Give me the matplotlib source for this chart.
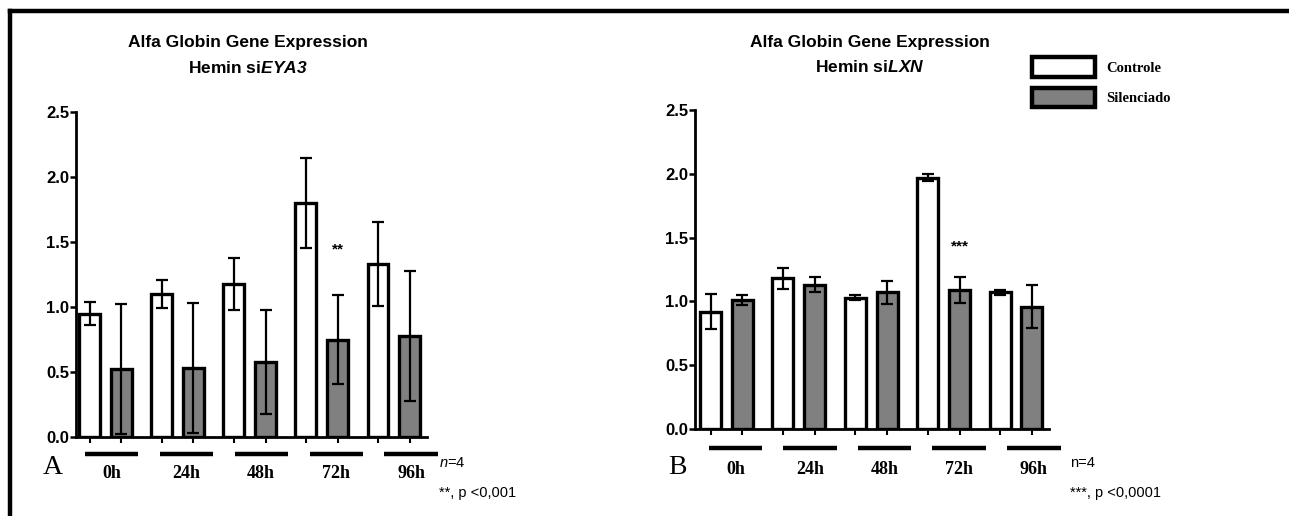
import numpy as np
import matplotlib
matplotlib.use("Agg")
import matplotlib.pyplot as plt
from matplotlib.lines import Line2D

plt.rcParams["mathtext.fontset"] = "custom"
plt.rcParams["mathtext.rm"] = "Liberation Sans"
plt.rcParams["mathtext.it"] = "Liberation Sans:italic"
plt.rcParams["mathtext.bf"] = "Liberation Sans:bold"
plt.rcParams["mathtext.bfit"] = "Liberation Sans:italic:bold"

# data
groups = ["0h", "24h", "48h", "72h", "96h"]

a_ctrl = [0.95, 1.10, 1.18, 1.80, 1.33]
a_ctrl_err = [0.09, 0.11, 0.20, 0.35, 0.32]
a_sil = [0.52, 0.53, 0.58, 0.75, 0.78]
a_sil_err = [0.50, 0.50, 0.40, 0.34, 0.50]

b_ctrl = [0.92, 1.18, 1.03, 1.97, 1.07]
b_ctrl_err = [0.14, 0.08, 0.02, 0.03, 0.02]
b_sil = [1.01, 1.13, 1.07, 1.09, 0.96]
b_sil_err = [0.04, 0.06, 0.09, 0.10, 0.17]

yticks = [0.0, 0.5, 1.0, 1.5, 2.0, 2.5]

W, H = 1289, 516
fig = plt.figure(figsize=(W / 100, H / 100), dpi=100)

SANS = "Liberation Sans"
SERIF = "Liberation Serif"
GRAY = "#808080"


def px_axes(l, r, t, b):
    return fig.add_axes([l / W, 1 - b / H, (r - l) / W, (b - t) / H])


def panel(ax, ctrl, ctrl_err, sil, sil_err, xlim, stars, star_y,
          line_scale, line_shift, line_dy, label_dy, ax_h):
    x = np.arange(len(groups))
    off, bw = 0.22, 0.29
    ax.bar(x - off, ctrl, bw, color="white", edgecolor="black", linewidth=2.4, zorder=2,
           label="Controle")
    ax.bar(x + off, sil, bw, color=GRAY, edgecolor="black", linewidth=2.4, zorder=2,
           label="Silenciado")
    ax.errorbar(x - off, ctrl, yerr=ctrl_err, fmt="none", ecolor="black",
                elinewidth=1.6, capsize=4.5, capthick=1.6, zorder=3)
    ax.errorbar(x + off, sil, yerr=sil_err, fmt="none", ecolor="black",
                elinewidth=1.6, capsize=4.5, capthick=1.6, zorder=3)

    ax.set_xlim(*xlim)
    ax.set_ylim(0, 2.5)
    ax.set_yticks(yticks)
    ax.set_yticklabels([f"{v:.1f}" for v in yticks], fontfamily=SANS,
                       fontweight="bold", fontsize=12)
    ax.set_xticks(np.concatenate([x - off, x + off]))
    ax.set_xticklabels([])
    ax.tick_params(axis="y", length=4, width=1.8, pad=1)
    ax.tick_params(axis="x", length=4, width=1.5)
    for s in ["top", "right"]:
        ax.spines[s].set_visible(False)
    for s in ["left", "bottom"]:
        ax.spines[s].set_linewidth(2.0)

    ax.text(3 + off, star_y, stars, ha="center", va="center", fontsize=11,
            fontfamily=SANS, fontweight="bold")

    # group bars and time labels below the axis
    tr = ax.get_xaxis_transform()
    for i, g in enumerate(groups):
        c = i * line_scale + line_shift
        ax.plot([c - 0.37, c + 0.37], [-line_dy / ax_h] * 2, color="black", lw=3.2,
                transform=tr, clip_on=False, solid_capstyle="butt")
        ax.text(c, -label_dy / ax_h, g, transform=tr, ha="center", va="center",
                fontfamily=SERIF, fontweight="bold", fontsize=13)


def titles(xc, y1, y2, gene):
    fig.text(xc / W, 1 - y1 / H, "Alfa Globin Gene Expression", ha="center", va="center",
             fontfamily=SANS, fontweight="bold", fontsize=12.5)
    fig.text(xc / W, 1 - y2 / H, r"Hemin si$\mathbfit{" + gene + "}$", ha="center",
             va="center", fontfamily=SANS, fontweight="bold", fontsize=12.5)


# panel A
axA = px_axes(76, 427, 112, 437)
panel(axA, a_ctrl, a_ctrl_err, a_sil, a_sil_err, (-0.41, 4.46), "**", 1.44,
      1.04, 0.08, 17, 36, 325)
titles(248, 42, 68, "EYA3")
fig.text(53 / W, 1 - 468 / H, "A", ha="center", va="center", fontfamily=SERIF, fontsize=20)
fig.text(439 / W, 1 - 463 / H, r"$\it{n}$=4", ha="left", va="center", fontfamily=SANS,
         fontsize=10.5)
fig.text(439 / W, 1 - 493 / H, "**, p <0,001", ha="left", va="center", fontfamily=SANS,
         fontsize=10.5)

# panel B
axB = px_axes(695, 1049, 110, 429)
panel(axB, b_ctrl, b_ctrl_err, b_sil, b_sil_err, (-0.435, 4.456), "***", 1.43,
      1.03, 0.125, 19, 41, 319)
titles(870, 42, 67, "LXN")
fig.text(677 / W, 1 - 468 / H, "B", ha="center", va="center", fontfamily=SERIF, fontsize=20)
fig.text(1070 / W, 1 - 463 / H, "n=4", ha="left", va="center", fontfamily=SANS,
         fontsize=10.5)
fig.text(1070 / W, 1 - 493 / H, "***, p <0,0001", ha="left", va="center", fontfamily=SANS,
         fontsize=10.5)

leg = axB.legend(loc="upper left", bbox_to_anchor=(1032 / W, 1 - 57 / H),
                 bbox_transform=fig.transFigure, frameon=False, borderpad=0,
                 borderaxespad=0, handlelength=4.3, handleheight=1.7, labelspacing=0.75,
                 handletextpad=0.8, prop={"family": SERIF, "weight": "bold", "size": 10.5})
for h in leg.legend_handles:
    h.set_linewidth(3.2)

# frame lines of the original figure
fig.add_artist(Line2D([10 / W, 10 / W], [1 - 11 / H, 0], color="black", lw=3.2))
fig.add_artist(Line2D([10 / W, 1], [1 - 11 / H, 1 - 11 / H], color="black", lw=3.2))

plt.savefig("out.png", dpi=100)
